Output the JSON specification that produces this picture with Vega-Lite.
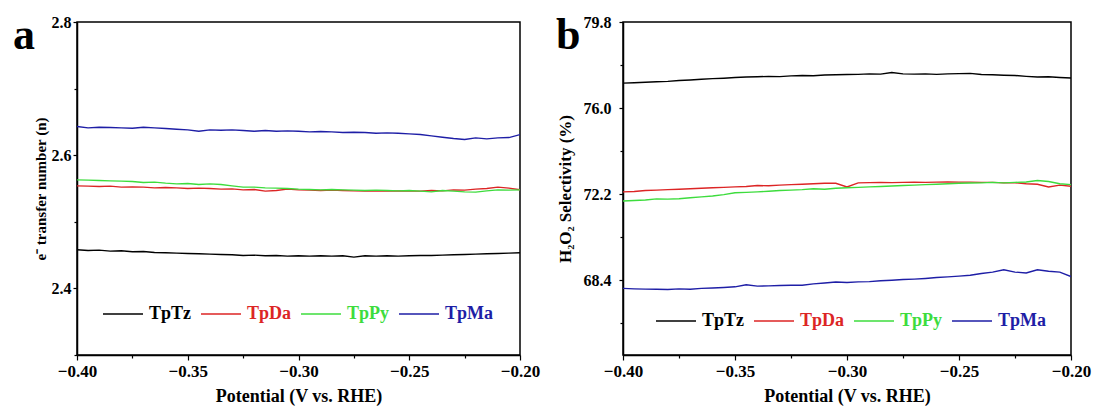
{
  "$schema": "https://vega.github.io/schema/vega-lite/v6.json",
  "background": "white",
  "padding": {"left": 12, "top": 13, "right": 5, "bottom": 4},
  "spacing": 14,
  "config": {
    "font": "Liberation Serif",
    "view": {"stroke": "black", "strokeWidth": 1.5},
    "axis": {
      "labelFont": "Liberation Serif", "labelFontWeight": "bold", "labelFontSize": 16, "labelColor": "black",
      "titleFont": "Liberation Serif", "titleFontWeight": "bold", "titleColor": "black",
      "domainColor": "black", "domainWidth": 1.5, "tickColor": "black", "tickWidth": 1.2,
      "grid": false, "labelFlush": false, "labelOverlap": false
    },
    "axisX": {"labelFontSize": 17},
    "legend": {
      "orient": "none", "direction": "horizontal", "title": null, "padding": 0,
      "symbolType": "stroke", "symbolSize": 1600, "symbolStrokeWidth": 1.5,
      "labelFont": "Liberation Serif", "labelFontWeight": "bold", "labelFontSize": 18,
      "labelOffset": 5, "columnPadding": 6, "labelLimit": 200
    }
  },
  "datasets": {
    "a": [
      {"p": -0.400, "TpTz": 2.458, "TpDa": 2.554, "TpPy": 2.563, "TpMa": 2.643},
      {"p": -0.395, "TpTz": 2.457, "TpDa": 2.5535, "TpPy": 2.5625, "TpMa": 2.641},
      {"p": -0.390, "TpTz": 2.4575, "TpDa": 2.553, "TpPy": 2.562, "TpMa": 2.642},
      {"p": -0.385, "TpTz": 2.456, "TpDa": 2.5535, "TpPy": 2.5615, "TpMa": 2.6415},
      {"p": -0.380, "TpTz": 2.4565, "TpDa": 2.552, "TpPy": 2.561, "TpMa": 2.641},
      {"p": -0.375, "TpTz": 2.455, "TpDa": 2.5525, "TpPy": 2.5605, "TpMa": 2.6405},
      {"p": -0.370, "TpTz": 2.4555, "TpDa": 2.552, "TpPy": 2.559, "TpMa": 2.642},
      {"p": -0.365, "TpTz": 2.454, "TpDa": 2.551, "TpPy": 2.5595, "TpMa": 2.641},
      {"p": -0.360, "TpTz": 2.4535, "TpDa": 2.5515, "TpPy": 2.558, "TpMa": 2.640},
      {"p": -0.355, "TpTz": 2.453, "TpDa": 2.551, "TpPy": 2.557, "TpMa": 2.639},
      {"p": -0.350, "TpTz": 2.4525, "TpDa": 2.550, "TpPy": 2.5575, "TpMa": 2.638},
      {"p": -0.345, "TpTz": 2.452, "TpDa": 2.5505, "TpPy": 2.556, "TpMa": 2.636},
      {"p": -0.340, "TpTz": 2.4515, "TpDa": 2.550, "TpPy": 2.557, "TpMa": 2.638},
      {"p": -0.335, "TpTz": 2.451, "TpDa": 2.549, "TpPy": 2.556, "TpMa": 2.6375},
      {"p": -0.330, "TpTz": 2.4505, "TpDa": 2.5495, "TpPy": 2.554, "TpMa": 2.638},
      {"p": -0.325, "TpTz": 2.4495, "TpDa": 2.548, "TpPy": 2.552, "TpMa": 2.637},
      {"p": -0.320, "TpTz": 2.450, "TpDa": 2.5485, "TpPy": 2.552, "TpMa": 2.636},
      {"p": -0.315, "TpTz": 2.449, "TpDa": 2.546, "TpPy": 2.551, "TpMa": 2.637},
      {"p": -0.310, "TpTz": 2.4495, "TpDa": 2.547, "TpPy": 2.5505, "TpMa": 2.636},
      {"p": -0.305, "TpTz": 2.4485, "TpDa": 2.549, "TpPy": 2.550, "TpMa": 2.6365},
      {"p": -0.300, "TpTz": 2.449, "TpDa": 2.548, "TpPy": 2.549, "TpMa": 2.636},
      {"p": -0.295, "TpTz": 2.4485, "TpDa": 2.5475, "TpPy": 2.5485, "TpMa": 2.635},
      {"p": -0.290, "TpTz": 2.449, "TpDa": 2.547, "TpPy": 2.548, "TpMa": 2.6355},
      {"p": -0.285, "TpTz": 2.4485, "TpDa": 2.5475, "TpPy": 2.5485, "TpMa": 2.635},
      {"p": -0.280, "TpTz": 2.449, "TpDa": 2.547, "TpPy": 2.548, "TpMa": 2.634},
      {"p": -0.275, "TpTz": 2.447, "TpDa": 2.5465, "TpPy": 2.5475, "TpMa": 2.6345},
      {"p": -0.270, "TpTz": 2.449, "TpDa": 2.546, "TpPy": 2.547, "TpMa": 2.634},
      {"p": -0.265, "TpTz": 2.4485, "TpDa": 2.5465, "TpPy": 2.5475, "TpMa": 2.633},
      {"p": -0.260, "TpTz": 2.449, "TpDa": 2.546, "TpPy": 2.547, "TpMa": 2.6335},
      {"p": -0.255, "TpTz": 2.4485, "TpDa": 2.5465, "TpPy": 2.5465, "TpMa": 2.633},
      {"p": -0.250, "TpTz": 2.449, "TpDa": 2.546, "TpPy": 2.547, "TpMa": 2.632},
      {"p": -0.245, "TpTz": 2.4495, "TpDa": 2.546, "TpPy": 2.546, "TpMa": 2.631},
      {"p": -0.240, "TpTz": 2.4495, "TpDa": 2.547, "TpPy": 2.545, "TpMa": 2.629},
      {"p": -0.235, "TpTz": 2.450, "TpDa": 2.5465, "TpPy": 2.547, "TpMa": 2.627},
      {"p": -0.230, "TpTz": 2.4505, "TpDa": 2.548, "TpPy": 2.546, "TpMa": 2.625},
      {"p": -0.225, "TpTz": 2.451, "TpDa": 2.5475, "TpPy": 2.545, "TpMa": 2.6235},
      {"p": -0.220, "TpTz": 2.4515, "TpDa": 2.549, "TpPy": 2.5445, "TpMa": 2.626},
      {"p": -0.215, "TpTz": 2.452, "TpDa": 2.550, "TpPy": 2.5465, "TpMa": 2.6245},
      {"p": -0.210, "TpTz": 2.4525, "TpDa": 2.552, "TpPy": 2.548, "TpMa": 2.626},
      {"p": -0.205, "TpTz": 2.453, "TpDa": 2.5505, "TpPy": 2.5475, "TpMa": 2.6265},
      {"p": -0.200, "TpTz": 2.4535, "TpDa": 2.548, "TpPy": 2.548, "TpMa": 2.631}
    ],
    "b": [
      {"p": -0.400, "TpTz": 77.10, "TpDa": 72.30, "TpPy": 71.90, "TpMa": 68.04},
      {"p": -0.395, "TpTz": 77.12, "TpDa": 72.32, "TpPy": 71.92, "TpMa": 68.02},
      {"p": -0.390, "TpTz": 77.14, "TpDa": 72.36, "TpPy": 71.94, "TpMa": 68.01},
      {"p": -0.385, "TpTz": 77.16, "TpDa": 72.38, "TpPy": 71.99, "TpMa": 68.00},
      {"p": -0.380, "TpTz": 77.18, "TpDa": 72.40, "TpPy": 71.98, "TpMa": 67.99},
      {"p": -0.375, "TpTz": 77.22, "TpDa": 72.42, "TpPy": 72.00, "TpMa": 68.02},
      {"p": -0.370, "TpTz": 77.24, "TpDa": 72.44, "TpPy": 72.04, "TpMa": 68.00},
      {"p": -0.365, "TpTz": 77.27, "TpDa": 72.46, "TpPy": 72.08, "TpMa": 68.04},
      {"p": -0.360, "TpTz": 77.30, "TpDa": 72.48, "TpPy": 72.12, "TpMa": 68.06},
      {"p": -0.355, "TpTz": 77.32, "TpDa": 72.50, "TpPy": 72.18, "TpMa": 68.08},
      {"p": -0.350, "TpTz": 77.35, "TpDa": 72.52, "TpPy": 72.26, "TpMa": 68.11},
      {"p": -0.345, "TpTz": 77.37, "TpDa": 72.54, "TpPy": 72.28, "TpMa": 68.20},
      {"p": -0.340, "TpTz": 77.38, "TpDa": 72.58, "TpPy": 72.30, "TpMa": 68.14},
      {"p": -0.335, "TpTz": 77.40, "TpDa": 72.57, "TpPy": 72.33, "TpMa": 68.15},
      {"p": -0.330, "TpTz": 77.39, "TpDa": 72.60, "TpPy": 72.36, "TpMa": 68.17},
      {"p": -0.325, "TpTz": 77.42, "TpDa": 72.62, "TpPy": 72.38, "TpMa": 68.18},
      {"p": -0.320, "TpTz": 77.44, "TpDa": 72.64, "TpPy": 72.40, "TpMa": 68.18},
      {"p": -0.315, "TpTz": 77.43, "TpDa": 72.66, "TpPy": 72.44, "TpMa": 68.24},
      {"p": -0.310, "TpTz": 77.46, "TpDa": 72.68, "TpPy": 72.42, "TpMa": 68.28},
      {"p": -0.305, "TpTz": 77.47, "TpDa": 72.68, "TpPy": 72.46, "TpMa": 68.32},
      {"p": -0.300, "TpTz": 77.48, "TpDa": 72.52, "TpPy": 72.48, "TpMa": 68.30},
      {"p": -0.295, "TpTz": 77.49, "TpDa": 72.70, "TpPy": 72.50, "TpMa": 68.33},
      {"p": -0.290, "TpTz": 77.51, "TpDa": 72.71, "TpPy": 72.52, "TpMa": 68.34},
      {"p": -0.285, "TpTz": 77.50, "TpDa": 72.72, "TpPy": 72.54, "TpMa": 68.38},
      {"p": -0.280, "TpTz": 77.57, "TpDa": 72.71, "TpPy": 72.56, "TpMa": 68.40},
      {"p": -0.275, "TpTz": 77.51, "TpDa": 72.72, "TpPy": 72.58, "TpMa": 68.43},
      {"p": -0.270, "TpTz": 77.50, "TpDa": 72.73, "TpPy": 72.60, "TpMa": 68.45},
      {"p": -0.265, "TpTz": 77.51, "TpDa": 72.72, "TpPy": 72.62, "TpMa": 68.48},
      {"p": -0.260, "TpTz": 77.49, "TpDa": 72.73, "TpPy": 72.64, "TpMa": 68.52},
      {"p": -0.255, "TpTz": 77.51, "TpDa": 72.74, "TpPy": 72.66, "TpMa": 68.55},
      {"p": -0.250, "TpTz": 77.52, "TpDa": 72.73, "TpPy": 72.68, "TpMa": 68.58},
      {"p": -0.245, "TpTz": 77.53, "TpDa": 72.73, "TpPy": 72.69, "TpMa": 68.62},
      {"p": -0.240, "TpTz": 77.48, "TpDa": 72.72, "TpPy": 72.70, "TpMa": 68.70},
      {"p": -0.235, "TpTz": 77.47, "TpDa": 72.72, "TpPy": 72.72, "TpMa": 68.76},
      {"p": -0.230, "TpTz": 77.45, "TpDa": 72.70, "TpPy": 72.70, "TpMa": 68.86},
      {"p": -0.225, "TpTz": 77.44, "TpDa": 72.70, "TpPy": 72.72, "TpMa": 68.76},
      {"p": -0.220, "TpTz": 77.40, "TpDa": 72.66, "TpPy": 72.74, "TpMa": 68.72},
      {"p": -0.215, "TpTz": 77.37, "TpDa": 72.64, "TpPy": 72.80, "TpMa": 68.86},
      {"p": -0.210, "TpTz": 77.38, "TpDa": 72.52, "TpPy": 72.76, "TpMa": 68.80},
      {"p": -0.205, "TpTz": 77.35, "TpDa": 72.60, "TpPy": 72.66, "TpMa": 68.76},
      {"p": -0.200, "TpTz": 77.33, "TpDa": 72.55, "TpPy": 72.62, "TpMa": 68.56}
    ]
  },
  "resolve": {"legend": {"color": "independent"}},
  "hconcat": [
    {
      "width": 443,
      "height": 333,
      "title": {"text": "a", "anchor": "start", "frame": "bounds", "font": "Liberation Serif", "fontSize": 44, "fontWeight": "bold", "color": "black", "baseline": "alphabetic", "offset": 0, "dx": -20, "dy": 79},
      "data": {"name": "a"},
      "transform": [{"fold": ["TpTz", "TpDa", "TpPy", "TpMa"], "as": ["series", "value"]}],
      "mark": {"type": "line", "strokeWidth": 1.4, "clip": true},
      "encoding": {
        "x": {
          "field": "p", "type": "quantitative",
          "scale": {"domain": [-0.4, -0.2], "nice": false, "zero": false},
          "axis": {
            "title": "Potential (V vs. RHE)", "titleFontSize": 18, "titlePadding": 8,
            "values": [-0.4, -0.375, -0.35, -0.325, -0.3, -0.275, -0.25, -0.225, -0.2],
            "labelExpr": "abs(datum.value*20 - round(datum.value*20)) > 0.1 ? '' : format(datum.value, '.2f')",
            "tickSize": {"condition": {"test": "abs(datum.value*20 - round(datum.value*20)) > 0.1", "value": 3}, "value": 5},
            "labelPadding": 3
          }
        },
        "y": {
          "field": "value", "type": "quantitative",
          "scale": {"domain": [2.3, 2.8], "nice": false, "zero": false},
          "axis": {
            "title": "e⁻ transfer number (n)", "titleFontSize": 15, "titlePadding": 3,
            "values": [2.3, 2.4, 2.5, 2.6, 2.7, 2.8],
            "labelExpr": "abs(datum.value*5 - round(datum.value*5)) > 0.1 ? '' : format(datum.value, '.1f')",
            "tickSize": {"condition": {"test": "abs(datum.value*5 - round(datum.value*5)) > 0.1", "value": 3}, "value": 4},
            "labelPadding": 2
          }
        },
        "color": {
          "field": "series", "type": "nominal", "sort": ["TpTz", "TpDa", "TpPy", "TpMa"],
          "scale": {"domain": ["TpTz", "TpDa", "TpPy", "TpMa"], "range": ["#000000", "#dc2525", "#3ddc3d", "#1e1ea6"]},
          "legend": {
            "legendX": 25, "legendY": 271,
            "encode": {"labels": {"update": {"fill": {"signal": "datum.label === 'TpTz' ? '#000000' : datum.label === 'TpDa' ? '#dc2525' : datum.label === 'TpPy' ? '#3ddc3d' : '#1e1ea6'"}}}}
          }
        }
      }
    },
    {
      "width": 448,
      "height": 333,
      "title": {"text": "b", "anchor": "start", "frame": "bounds", "font": "Liberation Serif", "fontSize": 44, "fontWeight": "bold", "color": "black", "baseline": "alphabetic", "offset": 0, "dx": 0, "dy": 79},
      "data": {"name": "b"},
      "transform": [{"fold": ["TpTz", "TpDa", "TpPy", "TpMa"], "as": ["series", "value"]}],
      "mark": {"type": "line", "strokeWidth": 1.4, "clip": true},
      "encoding": {
        "x": {
          "field": "p", "type": "quantitative",
          "scale": {"domain": [-0.4, -0.2], "nice": false, "zero": false},
          "axis": {
            "title": "Potential (V vs. RHE)", "titleFontSize": 18, "titlePadding": 8,
            "values": [-0.4, -0.375, -0.35, -0.325, -0.3, -0.275, -0.25, -0.225, -0.2],
            "labelExpr": "abs(datum.value*20 - round(datum.value*20)) > 0.1 ? '' : format(datum.value, '.2f')",
            "tickSize": {"condition": {"test": "abs(datum.value*20 - round(datum.value*20)) > 0.1", "value": 3}, "value": 5},
            "labelPadding": 3
          }
        },
        "y": {
          "field": "value", "type": "quantitative",
          "scale": {"domain": [65.1, 79.8], "nice": false, "zero": false},
          "axis": {
            "title": "H₂O₂ Selectivity (%)", "titleFontSize": 17, "titlePadding": 9,
            "values": [66.5, 68.4, 70.3, 72.2, 74.1, 76.0, 77.9, 79.8],
            "labelExpr": "abs((datum.value - 68.4)/3.8 - round((datum.value - 68.4)/3.8)) > 0.1 ? '' : format(datum.value, '.1f')",
            "tickSize": {"condition": {"test": "abs((datum.value - 68.4)/3.8 - round((datum.value - 68.4)/3.8)) > 0.1", "value": 3}, "value": 4},
            "labelPadding": 8
          }
        },
        "color": {
          "field": "series", "type": "nominal", "sort": ["TpTz", "TpDa", "TpPy", "TpMa"],
          "scale": {"domain": ["TpTz", "TpDa", "TpPy", "TpMa"], "range": ["#000000", "#dc2525", "#3ddc3d", "#1e1ea6"]},
          "legend": {
            "legendX": 32, "legendY": 278,
            "encode": {"labels": {"update": {"fill": {"signal": "datum.label === 'TpTz' ? '#000000' : datum.label === 'TpDa' ? '#dc2525' : datum.label === 'TpPy' ? '#3ddc3d' : '#1e1ea6'"}}}}
          }
        }
      }
    }
  ]
}
